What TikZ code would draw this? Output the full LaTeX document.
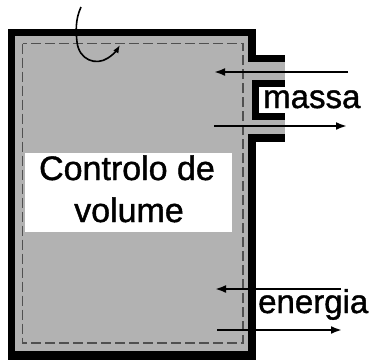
\documentclass[tikz,border=0pt]{standalone}
\usepackage{fontspec}
\setmainfont{Liberation Sans}
\newfontfamily\cvfont[FakeBold=1.2]{Liberation Sans}
\usetikzlibrary{arrows.meta}
\definecolor{cvgray}{RGB}{178,178,178}
\definecolor{dashgray}{RGB}{80,80,80}
\begin{document}
\begin{tikzpicture}[x=1pt,y=-1pt,
  flow/.style={line width=2.6pt,-{Latex[length=11pt,width=8pt]}},
  cvline/.style={draw=dashgray,line width=1.5pt,dash pattern=on 10pt off 4pt},
  lbl/.style={font=\cvfont\fontsize{33}{40}\selectfont,inner sep=0pt,anchor=base west},
  clbl/.style={font=\cvfont\fontsize{34}{40}\selectfont,inner sep=0pt,anchor=base},
  ]
\useasboundingbox (0,0) rectangle (369,360);
% vessel walls
\fill[black] (8,29) rectangle (256,360);
\fill[cvgray] (15,36) rectangle (248,351);
% mass ports
\fill[cvgray] (247,62) rectangle (285,134);
\fill[black] (248,55) rectangle (285,62);
\fill[black] (252,80) rectangle (285,120);
\fill[white] (259,87) rectangle (286,113);
\fill[black] (248,134) rectangle (285,142);
% control surface
\draw[cvline] (22.5,43.5) rectangle (243,343);
% label box
\fill[white] (25,153) rectangle (232,232);
\node[clbl] (c1) at (127,180) {Controlo de};
\node[clbl] (c2) at (129,222) {volume};
\node[lbl] (massa) at (263,108) {massa};
\node[lbl] (energia) at (258,313) {energia};
% mass flows
\coordinate (mi1) at (348,72); \coordinate (mi2) at (214,72);
\coordinate (mo1) at (214,126); \coordinate (mo2) at (347,126);
\draw[flow] (mi1) -- (mi2);
\draw[flow] (mo1) -- (mo2);
% energy flows
\coordinate (ei1) at (341,289); \coordinate (ei2) at (215,289);
\coordinate (eo1) at (217,330); \coordinate (eo2) at (342,330);
\draw[flow] (ei1) -- (ei2);
\draw[flow] (eo1) -- (eo2);
% shaft work curve
\coordinate (s1) at (81,7);
\coordinate (s2) at (120,45);
\draw[line width=1.6pt,-{Latex[length=8pt,width=6pt]}] (s1) .. controls (75,20) and (76,32) .. (77,42)
  .. controls (79,60) and (96,66) .. (108,58) .. controls (113,55) and (117,50) .. (s2);
\end{tikzpicture}
\end{document}
